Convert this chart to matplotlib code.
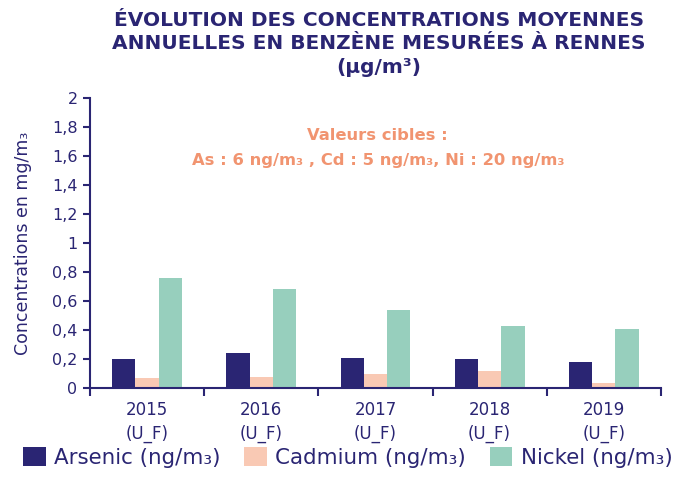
import matplotlib.pyplot as plt
import numpy as np

# Annual mean concentrations per station year
years = ["2015", "2016", "2017", "2018", "2019"]
station = "(U_F)"
arsenic = [0.20, 0.24, 0.21, 0.20, 0.18]
cadmium = [0.07, 0.08, 0.10, 0.12, 0.035]
nickel = [0.76, 0.68, 0.54, 0.43, 0.41]
series_names = ["Arsenic (ng/m₃)", "Cadmium (ng/m₃)", "Nickel (ng/m₃)"]
y_ticks = [0, 0.2, 0.4, 0.6, 0.8, 1, 1.2, 1.4, 1.6, 1.8, 2]

navy = "#2a2573"
pink = "#f9c9b4"
green = "#97cfbd"
orange = "#f19470"

plt.rcParams['font.family'] = ['DejaVu Sans']

fig = plt.figure(figsize=(6.82, 4.97), dpi=100)
ax = fig.add_axes([0.132, 0.219, 0.837, 0.584])

x = np.arange(len(years))
w = 0.204
for i, (vals, col) in enumerate(zip([arsenic, cadmium, nickel], [navy, pink, green])):
    ax.bar(x + (i - 1) * w, vals, width=w, color=col, label=series_names[i], zorder=2)

ax.set_xlim(-0.5, len(years) - 0.5)
ax.set_ylim(0, 2)

# category boundaries get the tick marks, labels sit between them
ax.set_xticks(np.arange(len(years) + 1) - 0.5)
ax.set_xticklabels([])
ax.set_xticks(x, minor=True)
ax.set_xticklabels([y + "\n" + station for y in years], minor=True,
                   fontsize=12, color=navy, linespacing=1.45)
ax.tick_params(axis='x', which='major', direction='out', length=6, width=1.5, color=navy)
ax.tick_params(axis='x', which='minor', length=0, pad=9)

ax.set_yticks(y_ticks)
ax.set_yticklabels([("%g" % v).replace(".", ",") for v in y_ticks],
                   fontsize=11.5, color=navy)
ax.tick_params(axis='y', direction='out', length=5, width=1.5, color=navy, pad=4)

for side in ["top", "right"]:
    ax.spines[side].set_visible(False)
for side in ["left", "bottom"]:
    ax.spines[side].set_color(navy)
    ax.spines[side].set_linewidth(1.5)

ax.set_ylabel("Concentrations en mg/m₃", fontsize=12.5, color=navy, labelpad=14)

fig.text(0.556, 0.978, "ÉVOLUTION DES CONCENTRATIONS MOYENNES\nANNUELLES EN BENZÈNE MESURÉES À RENNES\n(µg/m³)",
         ha='center', va='top', fontsize=14.5, fontweight='bold', color=navy, linespacing=1.3)

fig.text(0.554, 0.742, "Valeurs cibles :\nAs : 6 ng/m₃ , Cd : 5 ng/m₃, Ni : 20 ng/m₃",
         ha='center', va='top', fontsize=11.8, fontweight='bold', color=orange, linespacing=1.85)

fig.legend(loc='lower center', bbox_to_anchor=(0.51, 0.02), ncol=3, frameon=False,
           fontsize=15.4, labelcolor=navy, handlelength=1.05, handleheight=1.05,
           handletextpad=0.4, columnspacing=1.1)

plt.savefig('out.png', dpi=100)
